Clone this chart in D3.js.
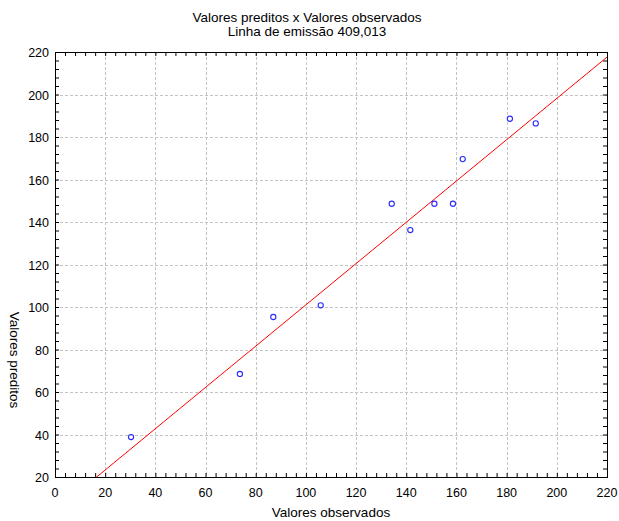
<!DOCTYPE html>
<html>
<head>
<meta charset="utf-8">
<script src="https://cdn.jsdelivr.net/npm/d3@7"></script>
<style>
  body { margin: 0; background: #fff; }
  text { font-family: "Liberation Sans", Arial, sans-serif; fill: #000; }
</style>
</head>
<body>
<svg id="chart"></svg>
<script>
/* data */
const observed = [30.3, 73.7, 87.0, 105.9, 134.2, 141.6, 151.2, 158.6, 162.5, 181.3, 191.6];
const predicted = [38.8, 68.5, 95.3, 100.8, 148.6, 136.2, 148.6, 148.6, 169.6, 188.6, 186.4];
const fitIntercept = 3.87, fitSlope = 0.9715;
const xTicks = d3.range(0, 221, 20);
const yTicks = d3.range(20, 221, 20);
const titleLines = ["Valores preditos x Valores observados", "Linha de emissão 409,013"];

/* layout */
const width = 619, height = 521;
const plotLeft = 55, plotRight = 607, plotTop = 52, plotBottom = 477;

const svg = d3.select("#chart").attr("width", width).attr("height", height);

const x = d3.scaleLinear().domain([0, 220]).range([plotLeft, plotRight]);
const y = d3.scaleLinear().domain([20, 220]).range([plotBottom, plotTop]);

const fmt = d3.format("d");

/* grid */
const grid = svg.append("g")
  .attr("stroke", "#c4c4c4")
  .attr("stroke-dasharray", "3,2")
  .attr("shape-rendering", "crispEdges");

grid.selectAll(".gx")
  .data(xTicks.slice(1, -1))
  .join("line")
  .attr("x1", d => Math.round(x(d)) + 0.5)
  .attr("x2", d => Math.round(x(d)) + 0.5)
  .attr("y1", plotTop).attr("y2", plotBottom);

grid.selectAll(".gy")
  .data(yTicks.slice(1, -1))
  .join("line")
  .attr("y1", d => Math.round(y(d)) + 0.5)
  .attr("y2", d => Math.round(y(d)) + 0.5)
  .attr("x1", plotLeft).attr("x2", plotRight);

/* axes with inward ticks on all four sides */
const xMinor = d3.range(0, 221, 4);
const yMinor = d3.range(20, 221, 4);

function tickAxis(axis, scale, vals) {
  return axis(scale).tickValues(vals).tickSizeInner(-4).tickSizeOuter(0).tickFormat("");
}

svg.append("g")
  .attr("transform", `translate(0,${plotBottom})`)
  .call(tickAxis(d3.axisBottom, x, xMinor));
svg.append("g")
  .attr("transform", `translate(0,${plotTop})`)
  .call(tickAxis(d3.axisTop, x, xMinor));
svg.append("g")
  .attr("transform", `translate(${plotLeft},0)`)
  .call(tickAxis(d3.axisLeft, y, yMinor));
svg.append("g")
  .attr("transform", `translate(${plotRight},0)`)
  .call(tickAxis(d3.axisRight, y, yMinor));

svg.selectAll(".domain").remove();
svg.selectAll(".tick line").attr("stroke", "#000");

svg.append("rect")
  .attr("x", plotLeft + 0.5).attr("y", plotTop + 0.5)
  .attr("width", plotRight - plotLeft).attr("height", plotBottom - plotTop)
  .attr("fill", "none").attr("stroke", "#000");

/* tick labels */
svg.append("g").selectAll("text")
  .data(xTicks)
  .join("text")
  .attr("x", d => x(d))
  .attr("y", plotBottom + 20)
  .attr("text-anchor", "middle")
  .attr("font-size", 12.5)
  .text(fmt);

svg.append("g").selectAll("text")
  .data(yTicks)
  .join("text")
  .attr("x", plotLeft - 6)
  .attr("y", d => y(d) + 5)
  .attr("text-anchor", "end")
  .attr("font-size", 12.5)
  .text(fmt);

/* fitted line, clipped to the plot */
svg.append("clipPath").attr("id", "clip")
  .append("rect")
  .attr("x", plotLeft).attr("y", plotTop)
  .attr("width", plotRight - plotLeft).attr("height", plotBottom - plotTop);

svg.append("line")
  .attr("clip-path", "url(#clip)")
  .attr("x1", x(0)).attr("y1", y(fitIntercept))
  .attr("x2", x(220)).attr("y2", y(fitIntercept + fitSlope * 220))
  .attr("stroke", "#ff0000")
  .attr("stroke-width", 1);

/* points */
svg.append("g").selectAll("circle")
  .data(observed)
  .join("circle")
  .attr("cx", d => x(d))
  .attr("cy", (d, i) => y(predicted[i]))
  .attr("r", 2.6)
  .attr("fill", "none")
  .attr("stroke", "#2a2aff")
  .attr("stroke-width", 1.1);

/* titles */
svg.append("g").selectAll("text")
  .data(titleLines)
  .join("text")
  .attr("x", 307)
  .attr("y", (d, i) => 22 + i * 14)
  .attr("text-anchor", "middle")
  .attr("font-size", 13.5)
  .text(d => d);

svg.append("text")
  .attr("x", (plotLeft + plotRight) / 2)
  .attr("y", 517)
  .attr("text-anchor", "middle")
  .attr("font-size", 13.5)
  .text("Valores observados");

svg.append("text")
  .attr("transform", "translate(10,360) rotate(90)")
  .attr("text-anchor", "middle")
  .attr("font-size", 13.5)
  .text("Valores preditos");
</script>
</body>
</html>
